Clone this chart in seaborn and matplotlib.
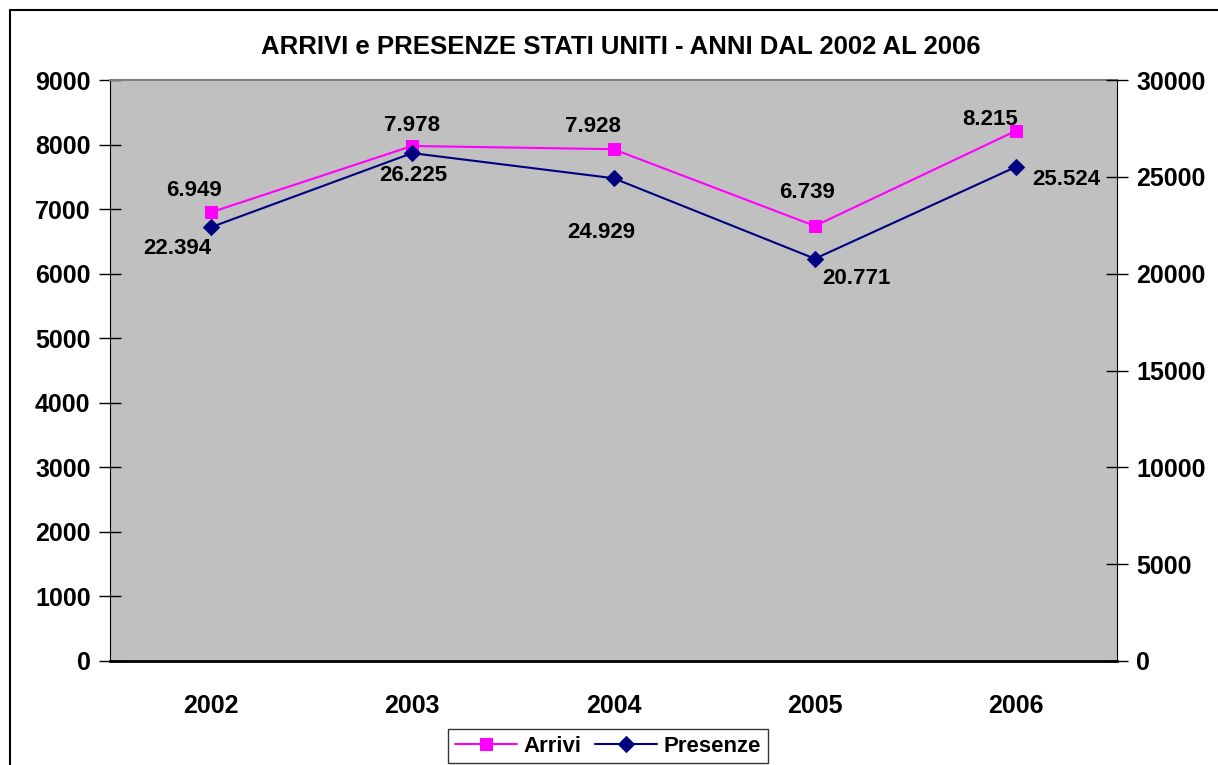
"""Arrivi e presenze Stati Uniti 2002-2006, doppio asse (seaborn)."""
import matplotlib
matplotlib.use("Agg")
import matplotlib.pyplot as plt
from matplotlib.lines import Line2D
import pandas as pd
import seaborn as sns

anni = ["2002", "2003", "2004", "2005", "2006"]
arrivi = [6949, 7978, 7928, 6739, 8215]
presenze = [22394, 26225, 24929, 20771, 25524]
etichette_arrivi = ["6.949", "7.978", "7.928", "6.739", "8.215"]
etichette_presenze = ["22.394", "26.225", "24.929", "20.771", "25.524"]

# offset delle etichette (in punti) rispetto al marker
off_arrivi = [(-12, 16), (0, 15), (-15, 16), (-6, 24), (-19, 8)]
off_presenze = [(-24, -15), (1, -16), (-9, -39), (30, -14), (36, -9)]

df = pd.DataFrame({"anno": anni, "arrivi": arrivi, "presenze": presenze})

sns.set_style("white", {"text.color": "black", "xtick.color": "black",
                        "ytick.color": "black", "axes.labelcolor": "black"})
plt.rcParams["font.family"] = ["Liberation Sans", "DejaVu Sans"]
plt.rcParams["font.weight"] = "bold"

fig = plt.figure(figsize=(12.18, 7.65), dpi=100)
ax = fig.add_axes([110 / 1218, 1 - 661 / 765, (1117 - 110) / 1218, (661 - 80) / 765])
ax2 = ax.twinx()

sns.lineplot(data=df, x="anno", y="arrivi", ax=ax, color="#FF00FF", lw=1.5,
             marker="s", markersize=9, markeredgecolor="#FF00FF", label="Arrivi",
             legend=False)
sns.lineplot(data=df, x="anno", y="presenze", ax=ax2, color="#000080", lw=1.5,
             marker="D", markersize=8, markeredgecolor="#000080", label="Presenze",
             legend=False)

ax.set_facecolor("#C0C0C0")
ax2.patch.set_visible(False)
ax.set_xlim(-0.5, 4.5)
ax.set_ylim(0, 9000)
ax2.set_ylim(0, 30000)
ax.set_yticks(range(0, 9001, 1000))
ax2.set_yticks(range(0, 30001, 5000))
ax.set_xlabel("")
ax.set_ylabel("")
ax2.set_ylabel("")

# tacche x tra le categorie
ax.set_xticks([-0.5, 0.5, 1.5, 2.5, 3.5, 4.5], minor=True)
ax.tick_params(axis="x", which="major", length=0, pad=24, labelsize=18)
ax.tick_params(axis="x", which="minor", direction="inout", length=16, width=1, color="black")
ax.tick_params(axis="y", direction="inout", length=16, width=1, color="black",
               labelsize=18, pad=6)
ax2.tick_params(axis="y", direction="inout", length=16, width=1, color="black",
                labelsize=18, pad=6)

for a in (ax, ax2):
    for s in a.spines.values():
        s.set_visible(False)
ax.spines["left"].set_visible(True)
ax.spines["left"].set_color("black")
ax.spines["bottom"].set_visible(True)
ax.spines["bottom"].set_color("black")
ax.spines["bottom"].set_linewidth(2)
ax2.spines["right"].set_visible(True)
ax2.spines["right"].set_color("black")
ax.spines["top"].set_visible(True)
ax.spines["top"].set_color("#808080")
ax.spines["top"].set_linewidth(1.5)

for i, (v, t, o) in enumerate(zip(arrivi, etichette_arrivi, off_arrivi)):
    ax.annotate(t, (i, v), xytext=o, textcoords="offset points", ha="center",
                va="center", fontsize=16, fontweight="bold", color="black")
for i, (v, t, o) in enumerate(zip(presenze, etichette_presenze, off_presenze)):
    ax2.annotate(t, (i, v), xytext=o, textcoords="offset points", ha="center",
                 va="center", fontsize=16, fontweight="bold", color="black")

fig.text(621 / 1218, 1 - 47 / 765, "ARRIVI e PRESENZE STATI UNITI - ANNI DAL 2002 AL 2006",
         ha="center", va="center", fontsize=18.5, fontweight="bold", color="black")

handles = ax.get_lines()[:1] + ax2.get_lines()[:1]
leg = fig.legend(handles, ["Arrivi", "Presenze"], loc="upper center",
                 bbox_to_anchor=(608 / 1218, 1 - 729 / 765), ncol=2, frameon=True,
                 fancybox=False, edgecolor="black", handlelength=2.8,
                 columnspacing=0.6, handletextpad=0.3, borderpad=0.3,
                 borderaxespad=0, prop={"weight": "bold", "size": 16})
leg.get_frame().set_linewidth(1)

# cornice della figura
fig.add_artist(Line2D([10 / 1218, 10 / 1218], [0, 1 - 10 / 765], color="black", lw=1.5,
                      transform=fig.transFigure))
fig.add_artist(Line2D([10 / 1218, 1], [1 - 10 / 765, 1 - 10 / 765], color="black", lw=1.5,
                      transform=fig.transFigure))

fig.savefig("out.png", dpi=100)
